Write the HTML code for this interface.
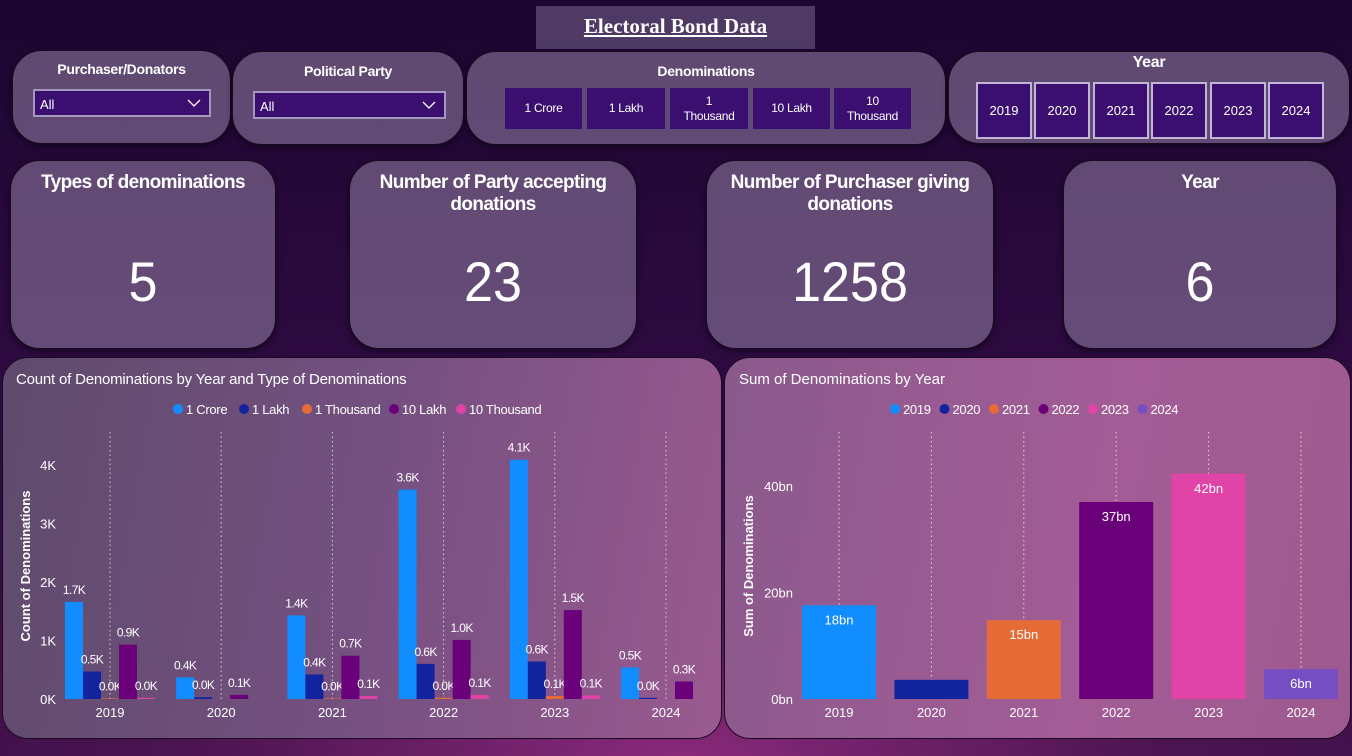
<!DOCTYPE html>
<html><head><meta charset="utf-8">
<style>
*{box-sizing:border-box;margin:0;padding:0}
body{width:1352px;height:756px;overflow:hidden;position:relative;font-family:"Liberation Sans",sans-serif;color:#fff;
background:radial-gradient(ellipse 900px 260px at 680px 756px,#8a2a7a 0%,#4a1450 55%,transparent 100%),linear-gradient(180deg,#1c0630 0%,#2a0a3e 40%,#3a0e48 100%)}
.abs{position:absolute}
.card{position:absolute;background:rgba(150,130,165,0.55);border:1px solid #1a0a22;border-radius:30px;box-shadow:0 2px 6px rgba(0,0,0,.5)}
.ttl{position:absolute;left:0;right:0;text-align:center;font-weight:bold;letter-spacing:-0.3px}
.dd{position:absolute;height:28px;background:#3b0f70;border:2px solid #a598bd;font-size:13px;padding:6px 5px}
.dd svg{position:absolute;right:8px;top:7px}
.btn{position:absolute;background:#3b0f70;border:1px solid #5a4a7a;font-size:12px;letter-spacing:-0.3px;text-align:center;display:flex;align-items:center;justify-content:center;line-height:15px}
.ybtn{position:absolute;top:82px;width:56px;height:57px;background:#3b0f70;border:2px solid #c0b5d5;font-size:13px;display:flex;align-items:center;justify-content:center}
.kpi .ttl{font-size:19px;top:11px;line-height:22px;letter-spacing:-0.6px}
.kpi .val{position:absolute;left:0;right:0;text-align:center;font-size:56px;top:88px;transform:scaleX(0.93)}
.chartcard{position:absolute;border-radius:26px;border:1px solid #1a0a22;overflow:hidden}
text{font-family:"Liberation Sans",sans-serif}
</style></head><body>
<div class="abs" style="left:536px;top:6px;width:279px;height:43px;background:#4e3a64;text-align:center;font-family:'Liberation Serif',serif;font-weight:bold;font-size:21px;text-decoration:underline;padding-top:8px">Electoral Bond Data</div>

<div class="card" style="left:12px;top:50px;width:219px;height:94px">
 <div class="ttl" style="top:10px;font-size:14px">Purchaser/Donators</div>
 <div class="dd" style="left:20px;top:38px;width:178px">All<svg width="14" height="10"><polyline points="1,2 7,8 13,2" fill="none" stroke="#fff" stroke-width="1.3"/></svg></div>
</div>
<div class="card" style="left:232px;top:51px;width:232px;height:94px">
 <div class="ttl" style="top:11px;font-size:14px">Political Party</div>
 <div class="dd" style="left:20px;top:39px;width:193px">All<svg width="14" height="10"><polyline points="1,2 7,8 13,2" fill="none" stroke="#fff" stroke-width="1.3"/></svg></div>
</div>
<div class="card" style="left:466px;top:51px;width:480px;height:94px">
 <div class="ttl" style="top:11px;font-size:14px">Denominations</div>
 <div class="btn" style="left:37px;top:35px;width:79px;height:43px">1 Crore</div>
 <div class="btn" style="left:119px;top:35px;width:80px;height:43px">1 Lakh</div>
 <div class="btn" style="left:202px;top:35px;width:80px;height:43px">1<br>Thousand</div>
 <div class="btn" style="left:285px;top:35px;width:79px;height:43px">10 Lakh</div>
 <div class="btn" style="left:366px;top:35px;width:79px;height:43px">10<br>Thousand</div>
</div>
<div class="card" style="left:948px;top:51px;width:402px;height:93px;border-radius:32px">
 <div class="ttl" style="top:2px;font-size:16px">Year</div>
</div>
<div class="ybtn" style="left:976px">2019</div>
<div class="ybtn" style="left:1034px">2020</div>
<div class="ybtn" style="left:1093px">2021</div>
<div class="ybtn" style="left:1151px">2022</div>
<div class="ybtn" style="left:1210px">2023</div>
<div class="ybtn" style="left:1268px">2024</div>

<div class="card kpi" style="left:10px;top:160px;width:266px;height:189px"><div class="ttl">Types of denominations</div><div class="val">5</div></div>
<div class="card kpi" style="left:349px;top:160px;width:288px;height:189px"><div class="ttl">Number of Party accepting<br>donations</div><div class="val">23</div></div>
<div class="card kpi" style="left:706px;top:160px;width:288px;height:189px"><div class="ttl">Number of Purchaser giving<br>donations</div><div class="val">1258</div></div>
<div class="card kpi" style="left:1063px;top:160px;width:274px;height:189px"><div class="ttl">Year</div><div class="val">6</div></div>

<div class="chartcard" style="left:2px;top:357px;width:720px;height:382px;background:linear-gradient(100deg,#5f4b6c 0%,#745080 50%,#9a5a90 100%)"></div>
<div class="chartcard" style="left:724px;top:357px;width:627px;height:382px;background:linear-gradient(100deg,#8a5a8c 0%,#a35c96 60%,#9e5a8e 100%)"></div>

<svg id="c1" class="abs" style="left:0;top:0" width="1352" height="756"></svg>

<script>
// Chart 1 data
const years = ["2019","2020","2021","2022","2023","2024"];
const denomTypes = ["1 Crore","1 Lakh","1 Thousand","10 Lakh","10 Thousand"];
const crore1 = [1.66,0.37,1.43,3.58,4.09,0.54];
const lakh1 = [0.47,0.03,0.42,0.60,0.64,0.02];
const thousand1 = [0.01,null,0.01,0.02,0.05,null];
const lakh10 = [0.93,0.07,0.74,1.01,1.52,0.30];
const thousand10 = [0.02,null,0.05,0.07,0.06,null];
const countTicks = [0,1,2,3,4];
// Chart 2 data
const sumValues = [17.6,3.6,14.8,37.0,42.3,5.6];
const sumLabels = ["18bn","","15bn","37bn","42bn","6bn"];
const sumTicks = [0,20,40];

const denomColors = ["#118dff","#12239e","#e66c37","#6b007b","#e044a7"];
const yearColors = ["#118dff","#12239e","#e66c37","#6b007b","#e044a7","#744ec2"];
const NS="http://www.w3.org/2000/svg";
const svg=document.getElementById('c1');
function el(tag,attrs,txt){const e=document.createElementNS(NS,tag);for(const k in attrs)e.setAttribute(k,attrs[k]);if(txt!=null)e.textContent=txt;svg.appendChild(e);return e;}

// ---- chart 1 ----
const y1=v=>699-v*58.5;
const x1=i=>110+i*111.2;
let t=el('text',{x:16,y:384,'font-size':15,fill:'#fff','letter-spacing':'-0.2'},"Count of Denominations by Year and Type of Denominations");


const legX=[173,239,302,389,456];
denomTypes.forEach((d,i)=>{
  const c=el('circle',{cx:legX[i]+5,cy:409,r:5,fill:denomColors[i]});
  
  
  const l=el('text',{x:legX[i]+13,y:414,'font-size':13,fill:'#fff','letter-spacing':'-0.3'},d);
  
  
});
years.forEach((y,i)=>{
  const g=el('line',{x1:x1(i),x2:x1(i),y1:432,y2:699,stroke:'#d8c8dc','stroke-dasharray':'1.5,3','stroke-width':1});
  
  
  const lb=el('text',{x:x1(i),y:717,'font-size':13,fill:'#fff','text-anchor':'middle'},y);
  
  
});
countTicks.forEach(v=>{
  const tl=el('text',{x:56,y:y1(v)+5,'font-size':13,fill:'#fff','text-anchor':'end'},v+"K");
  
  
});
t=el('text',{x:0,y:0,'font-size':13,'font-weight':'bold',fill:'#fff','text-anchor':'middle',transform:'translate(30,566) rotate(-90)'},"Count of Denominations");


const series=[crore1,lakh1,thousand1,lakh10,thousand10];
const bw=18;
series.forEach((s,si)=>{
  s.forEach((v,i)=>{
    if(v==null)return;
    const bx=x1(i)-45+si*bw;
    const r=el('rect',{x:bx,y:y1(v),width:bw,height:Math.max(699-y1(v),0),fill:denomColors[si]});
    
    
    const lbl=el('text',{x:bx+bw/2,y:y1(v)-8,'font-size':12,fill:'#fff','text-anchor':'middle','letter-spacing':'-0.6'},v.toFixed(1)+"K");
    
    
  });
});

// ---- chart 2 ----
const y2=v=>699-v*5.325;
const x2=i=>839+i*92.4;
t=el('text',{x:739,y:384,'font-size':15,fill:'#fff'},"Sum of Denominations by Year");


years.forEach((y,i)=>{
  const lx=890+i*49.5;
  const c=el('circle',{cx:lx+5,cy:409,r:5,fill:yearColors[i]});
  
  
  const l=el('text',{x:lx+13,y:414,'font-size':13,fill:'#fff','letter-spacing':'-0.3'},y);
  
  
  const g=el('line',{x1:x2(i),x2:x2(i),y1:432,y2:699,stroke:'#e0d0e0','stroke-dasharray':'1.5,3','stroke-width':1});
  
  
  const lb=el('text',{x:x2(i),y:717,'font-size':13,fill:'#fff','text-anchor':'middle'},y);
  
  
});
sumTicks.forEach(v=>{
  const tl=el('text',{x:793,y:y2(v)+5,'font-size':13,fill:'#fff','text-anchor':'end'},v+"bn");
  
  
});
t=el('text',{x:0,y:0,'font-size':13,'font-weight':'bold',fill:'#fff','text-anchor':'middle',transform:'translate(753,566) rotate(-90)'},"Sum of Denominations");


sumValues.forEach((v,i)=>{
  const r=el('rect',{x:x2(i)-37,y:y2(v),width:74,height:699-y2(v),fill:yearColors[i]});
  
  
  if(sumLabels[i]){
    const lbl=el('text',{x:x2(i),y:y2(v)+19,'font-size':13,fill:'#fff','text-anchor':'middle'},sumLabels[i]);
    
    
  }
});
</script>
</body></html>
